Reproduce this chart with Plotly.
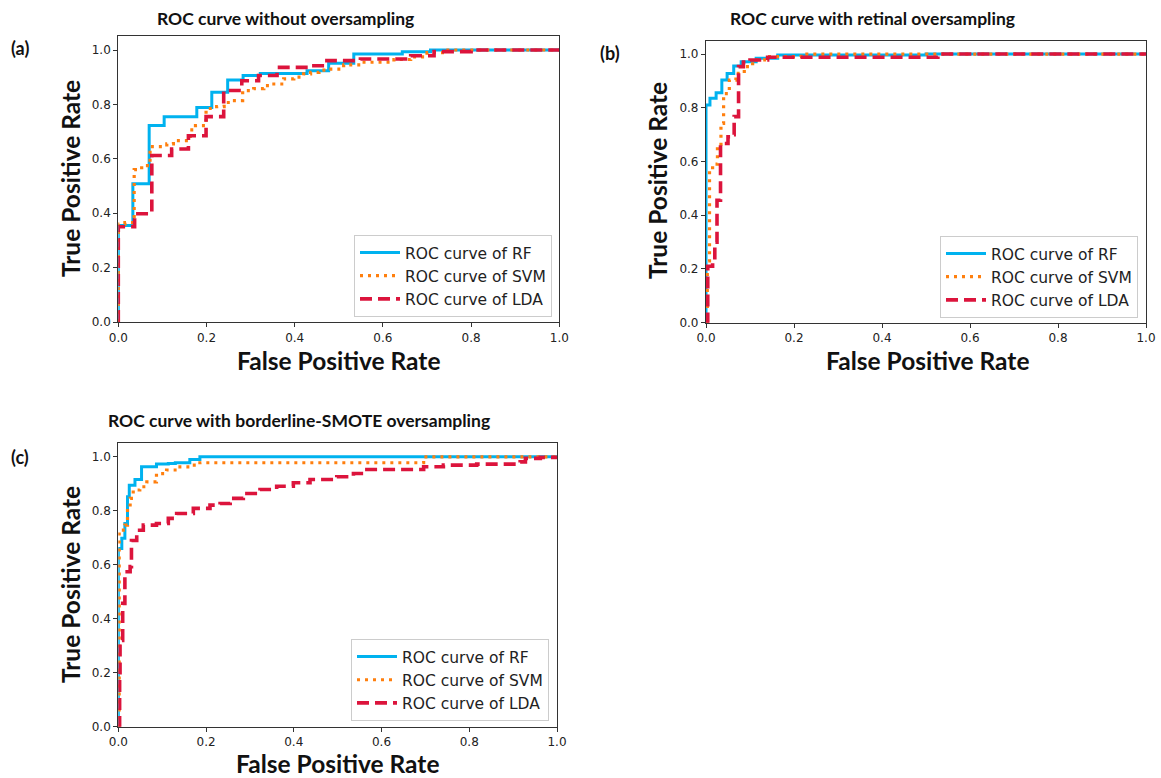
import plotly.graph_objects as go

W, H = 1161, 778

# ---------------- data ----------------
series_names = ["ROC curve of RF", "ROC curve of SVM", "ROC curve of LDA"]
panel_titles = ["ROC curve without oversampling",
                "ROC curve with retinal oversampling",
                "ROC curve with borderline-SMOTE oversampling"]
panel_tags = ["(a)", "(b)", "(c)"]
tick_vals = [0.0, 0.2, 0.4, 0.6, 0.8, 1.0]
tick_text = ["0.0", "0.2", "0.4", "0.6", "0.8", "1.0"]

# panel (a)
a_rf_fpr = [0, 0, 0.033, 0.070, 0.104, 0.178, 0.212, 0.248, 0.283, 0.322, 0.428, 0.477, 0.534, 0.644, 0.708, 1.0]
a_rf_tpr = [0, 0.355, 0.508, 0.722, 0.755, 0.789, 0.845, 0.890, 0.906, 0.914, 0.924, 0.951, 0.985, 0.994, 1.0, 1.0]
a_svm_fpr = [0, 0, 0.015, 0.036, 0.053, 0.072, 0.110, 0.125, 0.163, 0.175, 0.199, 0.223, 0.240, 0.258, 0.282,
             0.307, 0.330, 0.348, 0.375, 0.398, 0.420, 0.436, 0.455, 0.474, 0.511, 0.55, 0.625, 0.663, 0.70, 0.74, 1.0]
a_svm_tpr = [0, 0.36, 0.365, 0.56, 0.575, 0.645, 0.655, 0.667, 0.706, 0.722, 0.785, 0.792, 0.807, 0.814, 0.851,
             0.858, 0.869, 0.875, 0.894, 0.900, 0.912, 0.918, 0.926, 0.930, 0.945, 0.955, 0.965, 0.975, 0.99, 1.0, 1.0]
a_lda_fpr = [0, 0, 0.037, 0.076, 0.121, 0.159, 0.199, 0.239, 0.280, 0.318, 0.360, 0.439, 0.473, 0.549, 0.663, 0.716, 0.80, 1.0]
a_lda_tpr = [0, 0.35, 0.398, 0.612, 0.636, 0.685, 0.755, 0.851, 0.887, 0.906, 0.936, 0.942, 0.961, 0.967, 0.979, 0.994, 1.0, 1.0]

# panel (b)
b_rf_fpr = [0, 0, 0.009, 0.023, 0.036, 0.048, 0.063, 0.080, 0.114, 0.163, 0.5, 1.0]
b_rf_tpr = [0, 0.81, 0.835, 0.856, 0.903, 0.928, 0.955, 0.971, 0.984, 0.996, 1.0, 1.0]
b_svm_fpr = [0, 0.003, 0.008, 0.015, 0.026, 0.034, 0.040, 0.053, 0.068, 0.087, 0.106, 0.133, 0.216, 1.0]
b_svm_tpr = [0, 0.23, 0.57, 0.59, 0.655, 0.742, 0.853, 0.903, 0.928, 0.953, 0.978, 0.99, 1.0, 1.0]
b_lda_fpr = [0, 0.004, 0.015, 0.020, 0.025, 0.033, 0.050, 0.061, 0.064, 0.074, 0.085, 0.10, 0.14, 0.527, 1.0]
b_lda_tpr = [0, 0.21, 0.23, 0.30, 0.456, 0.667, 0.692, 0.70, 0.767, 0.953, 0.97, 0.978, 0.988, 1.0, 1.0]

# panel (c)
c_rf_fpr = [0, 0, 0.008, 0.015, 0.021, 0.025, 0.038, 0.053, 0.087, 0.114, 0.13, 0.163, 0.186, 1.0]
c_rf_tpr = [0, 0.66, 0.698, 0.753, 0.852, 0.895, 0.916, 0.963, 0.973, 0.975, 0.978, 0.99, 1.0, 1.0]
c_svm_fpr = [0, 0.002, 0.015, 0.021, 0.027, 0.034, 0.049, 0.065, 0.087, 0.110, 0.133, 0.163, 0.186, 0.696, 1.0]
c_svm_tpr = [0, 0.728, 0.747, 0.815, 0.846, 0.877, 0.889, 0.907, 0.938, 0.951, 0.963, 0.969, 0.978, 1.0, 1.0]
c_lda_fpr = [0, 0.003, 0.004, 0.010, 0.015, 0.027, 0.030, 0.042, 0.057, 0.087, 0.114, 0.133, 0.171, 0.209, 0.232,
             0.255, 0.285, 0.323, 0.361, 0.399, 0.437, 0.498, 0.536, 0.559, 0.696, 0.741, 0.817, 0.916, 0.928, 0.962, 1.0]
c_lda_tpr = [0, 0.20, 0.32, 0.457, 0.574, 0.593, 0.69, 0.728, 0.747, 0.753, 0.772, 0.79, 0.809, 0.821, 0.827,
             0.846, 0.864, 0.879, 0.891, 0.904, 0.916, 0.926, 0.938, 0.953, 0.963, 0.969, 0.973, 0.981, 0.994, 0.998, 1.0]

panels = [
    [(a_rf_fpr, a_rf_tpr), (a_svm_fpr, a_svm_tpr), (a_lda_fpr, a_lda_tpr)],
    [(b_rf_fpr, b_rf_tpr), (b_svm_fpr, b_svm_tpr), (b_lda_fpr, b_lda_tpr)],
    [(c_rf_fpr, c_rf_tpr), (c_svm_fpr, c_svm_tpr), (c_lda_fpr, c_lda_tpr)],
]

# ---------------- styling ----------------
line_styles = [
    dict(color="#00b2ef", width=3, dash="solid"),
    dict(color="#ff7f0e", width=3.2, dash="3px,5px"),
    dict(color="#dc143c", width=3.6, dash="12px,6px"),
]

# axes boxes in pixels: (left, right, top, bottom)
boxes = [(118.3, 559.3, 36.4, 322.0),
         (706.0, 1146.0, 40.6, 322.7),
         (118.3, 557.0, 443.3, 726.7)]
legend_pos = [(552, 317), (1138, 318), (549, 721)]  # right, bottom in px
title_pos = [(285, 18), (872, 18), (299, 420)]
tag_pos = [(20, 48), (610, 53), (20, 457)]
xlabel_pos = [(338, 360), (927, 360), (337, 763)]
ylabel_pos = [(70, 179), (657, 181), (70, 585)]

BOLD = "Lato"
TICKF = "DejaVu Sans"

fig = go.Figure()
legend_ids = ["legend", "legend2", "legend3"]
for p, curves in enumerate(panels):
    xa = "x" if p == 0 else f"x{p+1}"
    ya = "y" if p == 0 else f"y{p+1}"
    for s, (fx, ty) in enumerate(curves):
        fig.add_trace(go.Scatter(
            x=fx, y=ty, mode="lines", name=series_names[s],
            line=dict(shape="hv", **line_styles[s]),
            xaxis=xa, yaxis=ya, legend=legend_ids[p], showlegend=True,
        ))

layout = dict(
    template="none",
    width=W, height=H, margin=dict(l=0, r=0, t=0, b=0, autoexpand=False),
    paper_bgcolor="white", plot_bgcolor="white", showlegend=True,
    annotations=[],
)
for p, (l, r, t, b) in enumerate(boxes):
    xk = "xaxis" if p == 0 else f"xaxis{p+1}"
    yk = "yaxis" if p == 0 else f"yaxis{p+1}"
    ya = "y" if p == 0 else f"y{p+1}"
    xa = "x" if p == 0 else f"x{p+1}"
    common = dict(showgrid=False, zeroline=False, showline=True, mirror=True, automargin=False,
                  linecolor="#333333", linewidth=1.2, ticks="outside", ticklen=4,
                  tickwidth=1, tickcolor="#333333", tickvals=tick_vals, ticktext=tick_text,
                  tickfont=dict(family=TICKF, size=12, color="#222222"))
    layout[xk] = dict(domain=[l / W, r / W], range=[0, 1.0], anchor=ya, **common)
    layout[yk] = dict(domain=[1 - b / H, 1 - t / H], range=[0, 1.05], anchor=xa, **common)
    lx, ly = legend_pos[p]
    layout[legend_ids[p]] = dict(
        x=lx / W, y=1 - ly / H, xanchor="right", yanchor="bottom",
        bgcolor="white", bordercolor="#cccccc", borderwidth=1,
        font=dict(family=TICKF, size=15.5, color="#222222"),
        itemwidth=40, tracegroupgap=0,
    )
    layout["annotations"] += [
        dict(text=f"<b>{panel_titles[p]}</b>", x=title_pos[p][0] / W, y=1 - title_pos[p][1] / H,
             xref="paper", yref="paper", showarrow=False, xanchor="center", yanchor="middle",
             font=dict(family=BOLD, size=17.5, color="#111111")),
        dict(text=f"<b>{panel_tags[p]}</b>", x=tag_pos[p][0] / W, y=1 - tag_pos[p][1] / H,
             xref="paper", yref="paper", showarrow=False, xanchor="center", yanchor="middle",
             font=dict(family=BOLD, size=18, color="#111111")),
        dict(text="<b>False Positive Rate</b>", x=xlabel_pos[p][0] / W, y=1 - xlabel_pos[p][1] / H,
             xref="paper", yref="paper", showarrow=False, xanchor="center", yanchor="middle",
             font=dict(family=BOLD, size=24.5, color="#111111")),
        dict(text="<b>True Positive Rate</b>", x=ylabel_pos[p][0] / W, y=1 - ylabel_pos[p][1] / H,
             xref="paper", yref="paper", showarrow=False, xanchor="center", yanchor="middle",
             textangle=-90, font=dict(family=BOLD, size=24.5, color="#111111")),
    ]

fig.update_layout(**layout)
fig.write_html("out.html",
               config={"displayModeBar": False},
               post_script="document.body.style.margin='0px';document.body.style.overflow='hidden';")
